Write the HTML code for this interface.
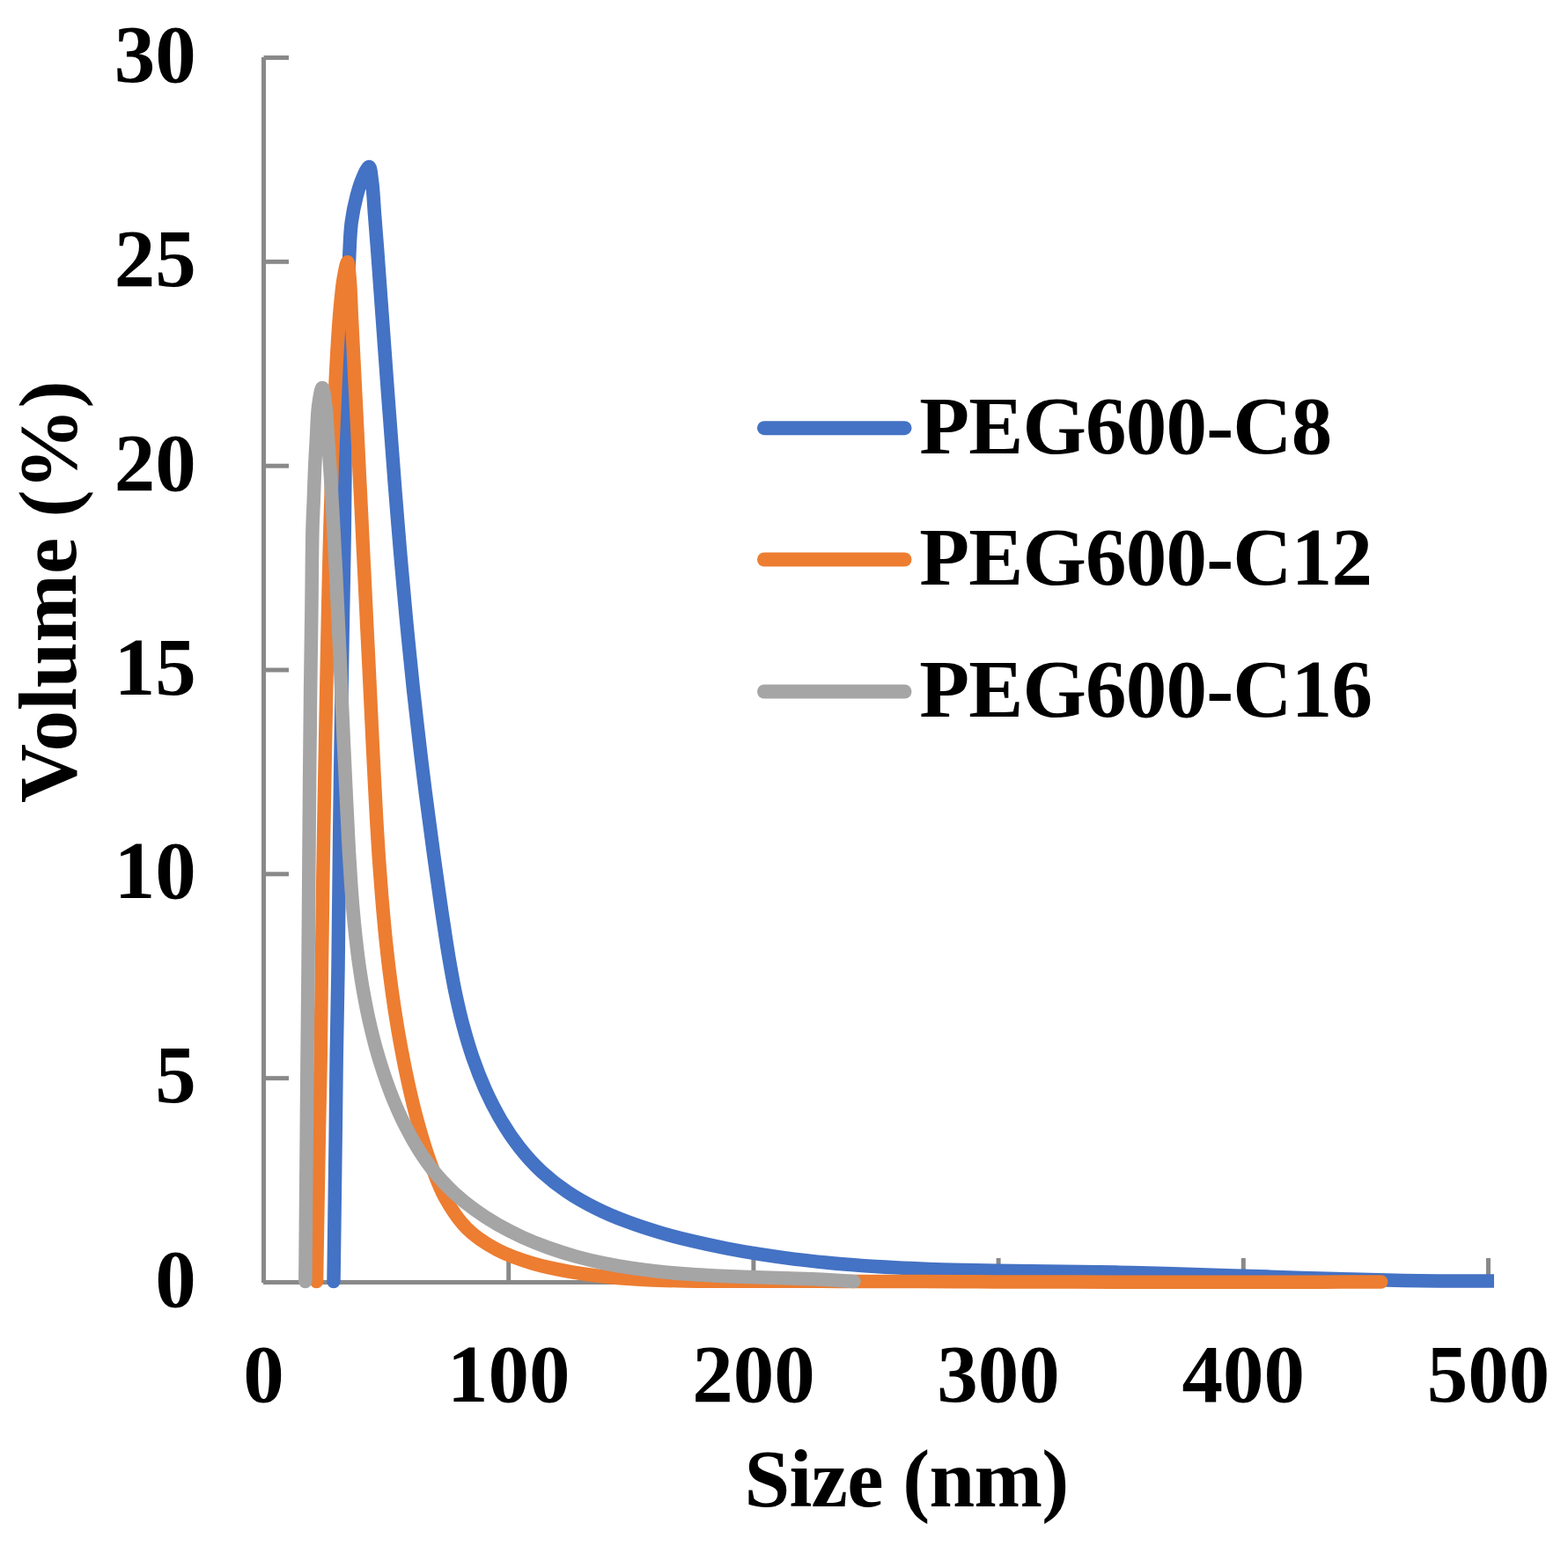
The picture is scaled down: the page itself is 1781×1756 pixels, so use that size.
<!DOCTYPE html>
<html><head><meta charset="utf-8"><title>Volume distribution</title>
<style>
html,body{margin:0;padding:0;background:#fff;}
body{width:1781px;height:1756px;overflow:hidden;}
svg{display:block;}
text{font-family:"Liberation Serif","Times New Roman",serif;font-weight:bold;font-size:93px;fill:#000;}
</style></head><body>
<svg width="1781" height="1756" viewBox="0 0 1781 1756">
<defs><clipPath id="pc"><rect x="290" y="0" width="1407" height="1480"/></clipPath></defs>
<rect width="1781" height="1756" fill="#fff"/>
<line x1="299.5" y1="65" x2="299.5" y2="1457" stroke="#898989" stroke-width="5"/>
<line x1="299" y1="1456.5" x2="1693" y2="1456.5" stroke="#898989" stroke-width="5"/>
<line x1="299.5" y1="65.5" x2="328" y2="65.5" stroke="#898989" stroke-width="5"/>
<line x1="299.5" y1="297.3" x2="328" y2="297.3" stroke="#898989" stroke-width="5"/>
<line x1="299.5" y1="529.2" x2="328" y2="529.2" stroke="#898989" stroke-width="5"/>
<line x1="299.5" y1="761.0" x2="328" y2="761.0" stroke="#898989" stroke-width="5"/>
<line x1="299.5" y1="992.8" x2="328" y2="992.8" stroke="#898989" stroke-width="5"/>
<line x1="299.5" y1="1224.7" x2="328" y2="1224.7" stroke="#898989" stroke-width="5"/>
<line x1="577.7" y1="1456.5" x2="577.7" y2="1429" stroke="#898989" stroke-width="5"/>
<line x1="855.9" y1="1456.5" x2="855.9" y2="1429" stroke="#898989" stroke-width="5"/>
<line x1="1134.1" y1="1456.5" x2="1134.1" y2="1429" stroke="#898989" stroke-width="5"/>
<line x1="1412.3" y1="1456.5" x2="1412.3" y2="1429" stroke="#898989" stroke-width="5"/>
<line x1="1690.5" y1="1456.5" x2="1690.5" y2="1429" stroke="#898989" stroke-width="5"/>
<g fill="none" stroke-width="15.5" stroke-linejoin="round" stroke-linecap="round" clip-path="url(#pc)">
<path d="M379.0,1455.5 C379.8,1397.0 380.7,1327.0 381.3,1280.0 C381.7,1248.5 381.8,1228.9 382.2,1201.0 C382.7,1169.4 383.5,1137.6 384.0,1100.0 C384.7,1052.5 385.1,991.2 385.8,938.5 C386.5,887.9 387.3,833.3 388.0,789.8 C388.5,755.7 389.0,729.7 389.5,698.7 C390.1,666.5 390.9,631.2 391.3,600.0 C391.7,571.9 391.9,546.7 392.0,520.0 C392.1,493.3 391.8,466.7 392.2,440.0 C392.6,413.3 393.5,385.8 394.3,360.0 C395.0,335.9 395.8,309.8 396.8,290.0 C397.5,275.4 397.7,263.9 399.3,252.0 C400.7,241.4 403.0,230.8 405.3,222.0 C407.2,214.9 409.0,208.7 411.5,203.0 C413.7,198.0 417.4,189.2 419.2,189.5 C421.1,189.8 421.6,199.6 422.6,206.4 C424.0,216.6 424.6,231.9 425.6,244.7 C426.6,257.5 427.6,270.3 428.6,283.1 C429.5,295.9 430.5,308.7 431.4,321.5 C432.4,334.3 433.3,347.1 434.2,359.9 C435.2,372.8 436.1,385.6 437.0,398.4 C438.0,411.3 438.9,424.1 439.8,436.9 C440.8,449.8 441.7,462.6 442.7,475.4 C443.6,488.3 444.6,501.1 445.6,513.9 C446.5,526.8 447.5,539.6 448.5,552.4 C449.5,565.2 450.6,578.0 451.6,590.9 C452.7,603.7 453.7,616.5 454.8,629.3 C455.9,642.1 457.0,654.9 458.2,667.7 C459.3,680.4 460.5,693.2 461.7,706.0 C462.9,718.7 464.2,731.5 465.5,744.2 C466.7,757.0 468.1,769.7 469.4,782.4 C470.8,795.1 472.2,807.8 473.7,820.5 C475.1,833.2 476.6,845.9 478.1,858.6 C479.6,871.2 481.2,883.9 482.8,896.6 C484.4,909.3 486.1,922.0 487.8,934.6 C489.4,947.4 491.2,960.1 492.9,972.8 C494.7,985.5 496.5,998.2 498.3,1011.0 C500.1,1023.7 501.9,1036.5 503.9,1049.3 C505.8,1062.1 507.7,1074.9 509.9,1087.7 C512.1,1100.5 514.3,1113.3 516.9,1126.0 C519.6,1138.6 522.4,1151.3 525.7,1163.8 C529.1,1176.3 532.7,1188.8 536.9,1201.1 C541.1,1213.3 545.8,1225.5 551.1,1237.3 C556.4,1249.0 562.2,1260.6 568.7,1271.6 C575.1,1282.6 582.1,1293.2 589.9,1303.1 C597.6,1312.9 606.0,1322.3 615.1,1330.7 C624.2,1339.1 634.1,1346.8 644.4,1353.7 C654.7,1360.7 665.8,1366.8 677.1,1372.5 C688.4,1378.2 700.3,1383.1 712.3,1387.6 C724.4,1392.2 736.9,1396.2 749.4,1399.9 C761.9,1403.6 774.6,1406.8 787.3,1409.8 C800.0,1412.8 812.7,1415.5 825.5,1418.0 C838.2,1420.5 851.0,1422.7 863.7,1424.7 C876.4,1426.7 889.2,1428.5 902.0,1430.1 C914.7,1431.7 927.5,1433.0 940.3,1434.3 C953.1,1435.5 965.8,1436.5 978.6,1437.5 C991.4,1438.4 1004.2,1439.1 1017.0,1439.8 C1029.8,1440.5 1042.6,1441.0 1055.4,1441.4 C1068.2,1441.9 1081.1,1442.2 1093.9,1442.5 C1106.7,1442.8 1119.5,1443.1 1132.3,1443.3 C1145.2,1443.5 1158.0,1443.6 1170.8,1443.8 C1183.6,1443.9 1196.5,1444.1 1209.3,1444.2 C1222.1,1444.4 1235.0,1444.5 1247.8,1444.8 C1260.6,1445.0 1273.5,1445.2 1286.3,1445.5 C1299.1,1445.8 1312.0,1446.2 1324.8,1446.5 C1337.7,1446.9 1350.5,1447.3 1363.3,1447.7 C1376.2,1448.0 1389.0,1448.5 1401.8,1448.9 C1414.7,1449.3 1427.5,1449.7 1440.4,1450.1 C1453.2,1450.6 1466.0,1451.0 1478.9,1451.4 C1491.7,1451.8 1504.6,1452.2 1517.4,1452.5 C1530.2,1452.9 1543.1,1453.2 1555.9,1453.5 C1568.8,1453.8 1581.6,1454.1 1594.4,1454.4 C1607.3,1454.6 1620.1,1454.8 1633.0,1454.9 C1645.8,1455.0 1658.6,1455.1 1671.5,1455.1 C1684.3,1455.2 1697.2,1455.0 1710.0,1455.0" stroke="#4472C4"/>
<path d="M359.5,1455.5 C360.5,1397.0 361.6,1327.0 362.5,1280.0 C363.1,1248.5 363.7,1228.9 364.2,1201.0 C364.7,1169.4 364.9,1137.6 365.4,1100.0 C366.0,1052.5 366.9,991.6 367.8,938.5 C368.7,886.7 369.8,828.9 370.7,785.0 C371.4,752.1 371.8,728.4 372.5,698.7 C373.2,666.9 374.0,631.2 374.9,600.0 C375.7,571.9 376.5,546.7 377.5,520.0 C378.5,493.3 379.7,463.6 380.8,440.0 C381.7,421.2 382.5,404.8 383.5,389.3 C384.3,376.2 385.0,365.0 386.1,352.9 C387.2,340.7 388.4,326.5 390.2,316.4 C391.5,309.1 393.5,297.7 394.7,297.8 C395.9,297.9 396.5,308.9 397.2,316.4 C398.3,327.9 398.7,345.6 399.4,360.2 C400.1,374.8 400.9,389.4 401.6,404.0 C402.3,418.6 403.1,433.2 403.8,447.8 C404.5,462.4 405.2,477.0 406.0,491.6 C406.7,506.2 407.4,520.8 408.1,535.4 C408.8,549.9 409.6,564.5 410.3,579.1 C411.0,593.7 411.7,608.3 412.4,622.9 C413.1,637.5 413.9,652.0 414.6,666.6 C415.3,681.2 416.0,695.8 416.7,710.4 C417.4,725.0 418.1,739.6 418.9,754.2 C419.6,768.8 420.3,783.4 421.0,798.0 C421.7,812.7 422.4,827.3 423.1,841.9 C423.9,856.5 424.5,871.2 425.3,885.8 C426.1,900.4 426.8,915.1 427.6,929.7 C428.5,944.3 429.3,958.9 430.3,973.5 C431.3,988.1 432.4,1002.7 433.6,1017.3 C434.8,1031.9 436.1,1046.4 437.5,1061.0 C439.0,1075.5 440.6,1090.0 442.4,1104.5 C444.2,1118.9 446.2,1133.4 448.4,1147.7 C450.6,1162.1 453.0,1176.5 455.7,1190.8 C458.3,1205.1 461.2,1219.4 464.4,1233.6 C467.6,1247.8 471.0,1262.0 474.9,1276.1 C478.8,1290.2 483.0,1304.5 488.0,1318.4 C493.1,1332.5 498.2,1347.1 505.3,1360.1 C512.3,1372.7 520.3,1385.3 530.3,1395.2 C540.1,1405.0 552.2,1412.8 564.5,1419.4 C577.1,1426.2 591.1,1430.8 605.0,1435.0 C619.0,1439.2 633.7,1442.0 648.2,1444.6 C662.6,1447.2 677.2,1449.0 691.7,1450.5 C706.3,1452.1 720.9,1453.0 735.5,1453.7 C750.1,1454.4 764.7,1454.7 779.4,1454.9 C794.0,1455.2 808.6,1455.1 823.3,1455.2 C837.9,1455.2 852.5,1455.2 867.2,1455.2 C881.8,1455.3 896.4,1455.3 911.1,1455.3 C925.7,1455.3 940.3,1455.4 954.9,1455.4 C969.5,1455.4 984.2,1455.5 998.8,1455.5 C1013.4,1455.5 1028.0,1455.6 1042.6,1455.6 C1057.2,1455.7 1071.8,1455.7 1086.4,1455.7 C1101.0,1455.8 1115.7,1455.8 1130.3,1455.9 C1144.9,1455.9 1159.5,1455.9 1174.1,1456.0 C1188.7,1456.0 1203.3,1456.0 1217.9,1456.1 C1232.5,1456.1 1247.1,1456.1 1261.7,1456.2 C1276.3,1456.2 1290.9,1456.2 1305.5,1456.2 C1320.1,1456.2 1334.7,1456.3 1349.3,1456.3 C1364.0,1456.3 1378.6,1456.3 1393.2,1456.3 C1407.8,1456.3 1422.4,1456.3 1437.0,1456.3 C1451.7,1456.3 1466.3,1456.3 1480.9,1456.2 C1495.5,1456.2 1510.2,1456.2 1524.8,1456.1 C1539.4,1456.1 1554.1,1456.0 1568.7,1456.0" stroke="#ED7D31"/>
<path d="M346.8,1455.5 C347.3,1397.0 347.9,1327.0 348.3,1280.0 C348.6,1248.5 348.7,1228.9 349.0,1201.0 C349.3,1169.4 349.7,1137.6 350.0,1100.0 C350.4,1052.5 350.8,991.6 351.2,938.5 C351.6,886.7 352.1,829.9 352.6,785.0 C353.0,749.8 353.5,722.1 353.9,691.0 C354.3,660.4 354.4,622.1 355.0,600.0 C355.3,587.3 355.8,580.5 356.2,570.0 C356.6,558.5 357.0,546.0 357.5,534.0 C358.0,522.0 358.7,510.0 359.4,498.0 C360.1,485.8 360.2,471.9 361.6,461.4 C362.7,453.4 364.6,440.5 366.0,440.5 C367.4,440.5 368.9,453.7 369.9,461.4 C371.1,470.9 371.5,482.6 372.2,493.2 C373.0,503.8 373.7,514.4 374.4,525.0 C375.1,535.5 375.7,546.1 376.4,556.6 C377.0,567.2 377.6,577.7 378.2,588.3 C378.8,598.8 379.4,609.4 379.9,619.9 C380.5,630.4 381.0,640.9 381.6,651.5 C382.1,662.0 382.6,672.5 383.1,683.0 C383.6,693.6 384.1,704.1 384.6,714.6 C385.1,725.1 385.6,735.7 386.1,746.2 C386.5,756.7 387.0,767.3 387.5,777.8 C387.9,788.3 388.4,798.9 388.9,809.4 C389.4,820.0 389.8,830.5 390.3,841.1 C390.8,851.7 391.3,862.3 391.8,872.8 C392.3,883.4 392.8,894.0 393.3,904.6 C393.8,915.3 394.3,925.9 394.9,936.5 C395.4,947.2 395.9,957.8 396.5,968.5 C397.2,979.2 397.8,989.8 398.5,1000.5 C399.2,1011.2 400.0,1021.8 400.9,1032.5 C401.8,1043.1 402.8,1053.7 404.0,1064.3 C405.2,1074.9 406.4,1085.5 407.9,1096.0 C409.4,1106.5 411.0,1117.0 412.9,1127.4 C414.8,1137.9 416.8,1148.3 419.1,1158.6 C421.4,1168.9 423.9,1179.2 426.7,1189.4 C429.5,1199.6 432.6,1209.7 436.0,1219.7 C439.4,1229.8 443.0,1239.8 447.0,1249.6 C451.1,1259.4 455.4,1269.2 460.2,1278.6 C464.9,1288.1 470.0,1297.4 475.7,1306.2 C481.3,1315.0 487.3,1323.7 493.9,1331.7 C500.5,1339.7 507.6,1347.3 515.1,1354.4 C522.7,1361.4 530.8,1368.0 539.2,1374.1 C547.6,1380.2 556.4,1385.9 565.5,1391.1 C574.7,1396.3 584.2,1401.1 593.8,1405.5 C603.5,1409.9 613.4,1413.8 623.5,1417.4 C633.5,1421.0 643.8,1424.2 654.1,1427.1 C664.4,1429.9 674.8,1432.4 685.2,1434.6 C695.7,1436.8 706.1,1438.6 716.6,1440.2 C727.1,1441.8 737.6,1443.1 748.2,1444.3 C758.7,1445.4 769.3,1446.3 779.8,1447.1 C790.4,1447.9 801.0,1448.4 811.6,1449.0 C822.2,1449.5 832.8,1449.9 843.4,1450.2 C854.0,1450.6 864.6,1450.9 875.2,1451.2 C885.8,1451.5 896.3,1451.8 906.9,1452.2 C917.4,1452.6 928.0,1452.9 938.5,1453.5 C949.0,1454.1 959.5,1454.8 970.0,1455.5" stroke="#A5A5A5"/>
</g>
<line x1="868" y1="486.2" x2="1027.5" y2="486.2" stroke="#4472C4" stroke-width="16" stroke-linecap="round"/>
<line x1="868" y1="635.5" x2="1027.5" y2="635.5" stroke="#ED7D31" stroke-width="16" stroke-linecap="round"/>
<line x1="868" y1="785.5" x2="1027.5" y2="785.5" stroke="#A5A5A5" stroke-width="16" stroke-linecap="round"/>
<text x="222.7" y="93.0" text-anchor="end">30</text>
<text x="222.7" y="324.8" text-anchor="end">25</text>
<text x="222.7" y="556.7" text-anchor="end">20</text>
<text x="222.7" y="788.5" text-anchor="end">15</text>
<text x="222.7" y="1020.3" text-anchor="end">10</text>
<text x="222.7" y="1252.2" text-anchor="end">5</text>
<text x="222.7" y="1484.0" text-anchor="end">0</text>
<text x="299.5" y="1592.3" text-anchor="middle">0</text>
<text x="577.7" y="1592.3" text-anchor="middle">100</text>
<text x="855.9" y="1592.3" text-anchor="middle">200</text>
<text x="1134.1" y="1592.3" text-anchor="middle">300</text>
<text x="1412.3" y="1592.3" text-anchor="middle">400</text>
<text x="1690.5" y="1592.3" text-anchor="middle">500</text>
<text x="1029.5" y="1711" text-anchor="middle" letter-spacing="-0.7">Size (nm)</text>
<text transform="translate(86,672.3) rotate(-90)" x="0" y="0" text-anchor="middle">Volume (%)</text>
<text x="1044.3" y="515" letter-spacing="-0.8">PEG600-C8</text>
<text x="1044.3" y="664.3" letter-spacing="-0.8">PEG600-C12</text>
<text x="1044.3" y="814.2" letter-spacing="-0.8">PEG600-C16</text>
</svg>
</body></html>
